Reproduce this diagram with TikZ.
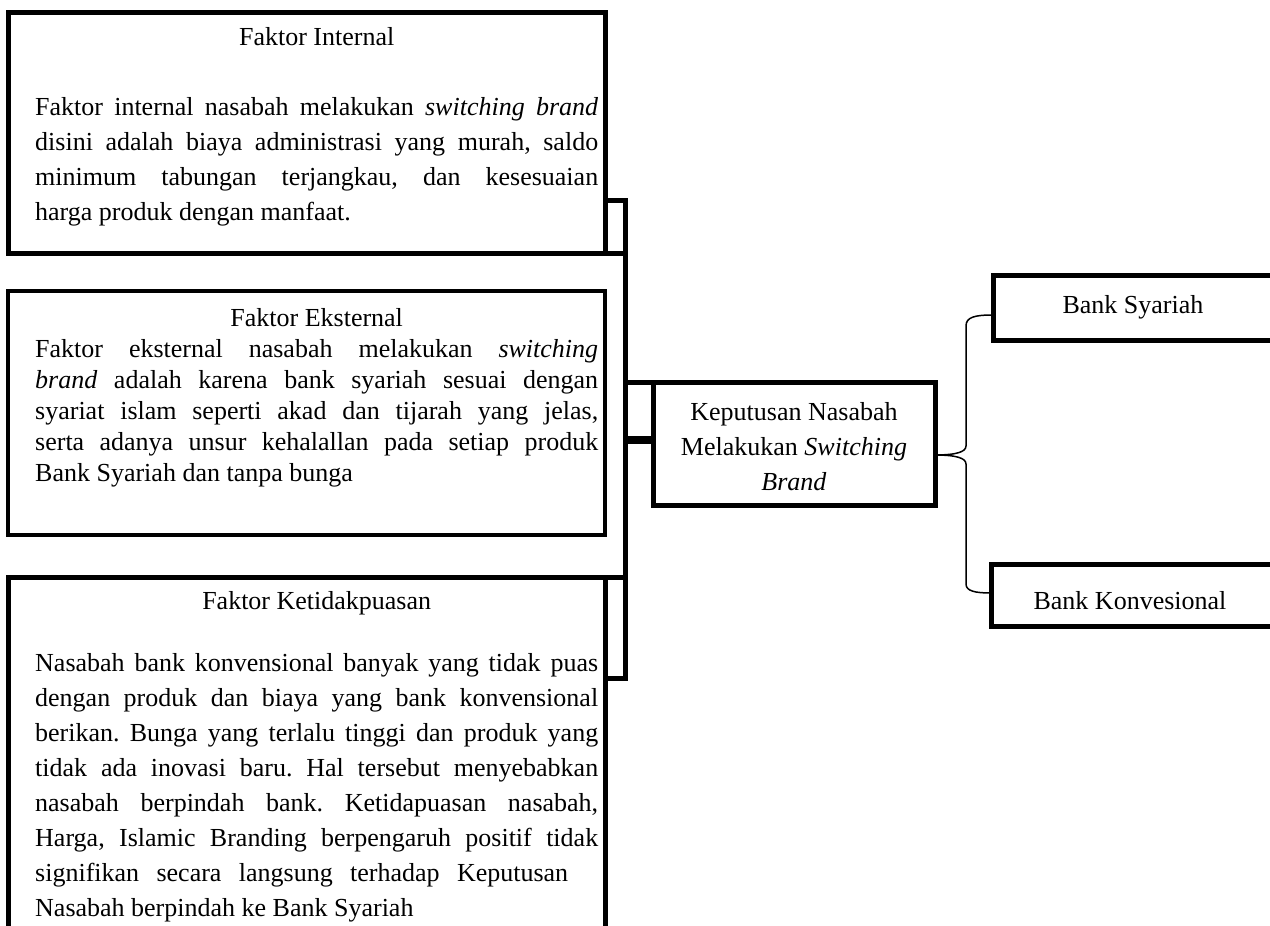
\documentclass[tikz,border=0pt]{standalone}
\usepackage{fontspec}
\setmainfont{Liberation Serif}
\usetikzlibrary{positioning,calc}
\frenchspacing

\tikzset{
  kotak/.style={draw,line width=5pt,inner sep=0pt,outer sep=0pt,anchor=north west},
  garis/.style={line width=5pt,line cap=rect},
  isi/.style={inner sep=0pt,anchor=north west,align=left},
  renggang/.style={font=\fontsize{26}{35}\selectfont},
}
\newcommand{\baris}[1]{\makebox[563pt][s]{#1}}
\newcommand{\judul}[1]{\makebox[563pt]{\rule{0pt}{25pt}#1}}

\begin{document}
\begin{tikzpicture}[x=1pt,y=-1pt,font=\fontsize{26}{31}\selectfont]
\useasboundingbox (0,0) rectangle (1270,926);
\clip (0,0) rectangle (1270,926);
%kotak kiri
\node[kotak,minimum width=597pt,minimum height=241pt] (internal) at (8,12) {};
\node[kotak,line width=4.5pt,minimum width=597pt,minimum height=244pt] (eksternal) at (8,291) {};
\node[kotak,minimum width=597pt,minimum height=380pt] (puas) at (8,577) {};
%kotak tengah dan kanan
\node[kotak,minimum width=282pt,minimum height=123pt] (keputusan) at (653,382) {};
\node[kotak,minimum width=320pt,minimum height=65pt] (syariah) at (993,275) {};
\node[kotak,minimum width=320pt,minimum height=62pt] (konvensional) at (991,564) {};
%isi kotak kiri
\node[isi,renggang] (tInternal) at (35,20) {\judul{Faktor Internal}\\[35pt]
  \baris{Faktor internal nasabah melakukan \textit{switching brand}}\\
  \baris{disini adalah biaya administrasi yang murah, saldo}\\
  \baris{minimum tabungan terjangkau, dan kesesuaian}\\
  harga produk dengan manfaat.};
\node[isi] (tEksternal) at (35,301) {\judul{Faktor Eksternal}\\
  \baris{Faktor eksternal nasabah melakukan \textit{switching}}\\
  \baris{\textit{brand} adalah karena bank syariah sesuai dengan}\\
  \baris{syariat islam seperti akad dan tijarah yang jelas,}\\
  \baris{serta adanya unsur kehalallan pada setiap produk}\\
  Bank Syariah dan tanpa bunga};
\node[isi,renggang] (tPuas) at (35,584) {\judul{Faktor Ketidakpuasan}\\[27pt]
  \baris{Nasabah bank konvensional banyak yang tidak puas}\\
  \baris{dengan produk dan biaya yang bank konvensional}\\
  \baris{berikan. Bunga yang terlalu tinggi dan produk yang}\\
  \baris{tidak ada inovasi baru. Hal tersebut menyebabkan}\\
  \baris{nasabah berpindah bank. Ketidapuasan nasabah,}\\
  \baris{Harga, Islamic Branding berpengaruh positif tidak}\\
  \makebox[533pt][s]{signifikan secara langsung terhadap Keputusan}\\
  Nasabah berpindah ke Bank Syariah};
%isi kotak tengah dan kanan
\node[align=center,inner sep=0pt,yshift=-3pt,font=\fontsize{26}{35}\selectfont] (tKeputusan) at (keputusan.center)
  {Keputusan Nasabah\\Melakukan \textit{Switching}\\\textit{Brand}};
\node[inner sep=0pt] (tSyariah) at (1133,307) {Bank Syariah};
\node[inner sep=0pt] (tKonvensional) at (1130,601) {Bank Konvesional};
%penghubung kiri
\coordinate (atas) at (625,200);
\coordinate (bawah) at (625,678);
\coordinate (tengah) at (625,440);
\draw[garis] (internal.east |- atas) -- (atas) -- (bawah) -- (puas.east |- bawah);
\draw[garis] (internal.south east) -- (internal.south east -| atas);
\draw[garis] (puas.north east) -- (puas.north east -| atas);
\draw[garis] (keputusan.north west -| atas) -- (keputusan.north west);
\draw[line width=8pt] (tengah) -- (keputusan.west |- tengah);
%kurung kurawal
\coordinate (ujung) at (keputusan.east |- 0,455);
\draw[line width=1.5pt] (syariah.west |- 0,315) .. controls (975,315) and (966,317) .. (966,326)
  -- (966,446) .. controls (966,452) and (956,455) .. (ujung)
  .. controls (956,455) and (966,458) .. (966,464)
  -- (966,584) .. controls (966,591) and (975,593) .. (konvensional.west |- 0,593);
\end{tikzpicture}
\end{document}
